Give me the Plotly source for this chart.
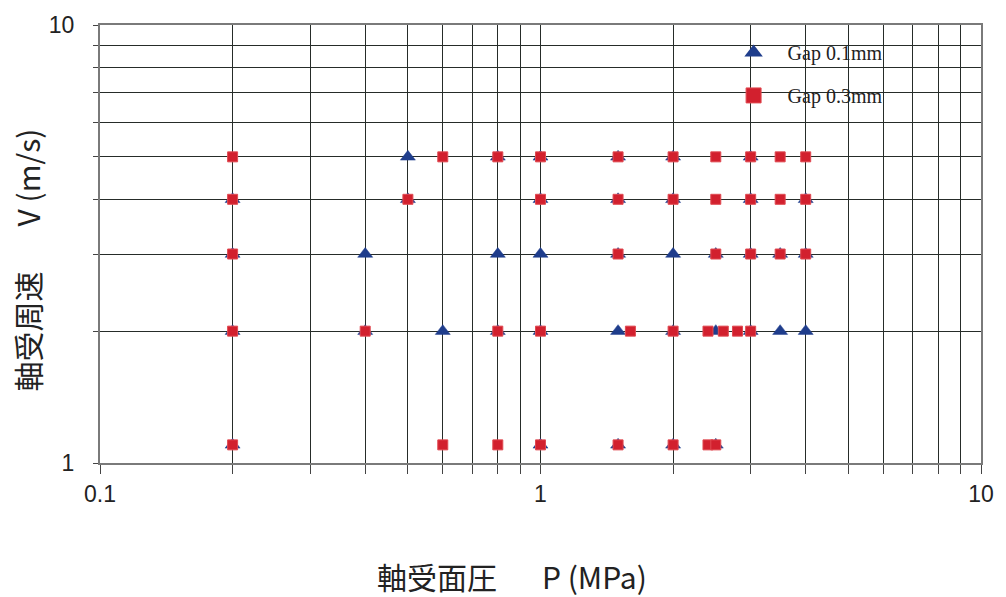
import plotly.graph_objects as go

# Bearing pressure P (MPa) and peripheral speed V (m/s) of each test point
p_gap01 = [0.5, 0.8, 1.0, 1.5, 2.0, 3.0,
           0.2, 0.5, 1.0, 1.5, 2.0, 3.0, 4.0,
           0.2, 0.4, 0.8, 1.0, 1.5, 2.0, 2.5, 3.0, 3.5, 4.0,
           0.2, 0.4, 0.6, 0.8, 1.0, 1.5, 2.0, 2.5, 3.0, 3.5, 4.0,
           0.2, 1.0, 1.5, 2.0, 2.5]
v_gap01 = [5, 5, 5, 5, 5, 5,
           4, 4, 4, 4, 4, 4, 4,
           3, 3, 3, 3, 3, 3, 3, 3, 3, 3,
           2, 2, 2, 2, 2, 2, 2, 2, 2, 2, 2,
           1.1, 1.1, 1.1, 1.1, 1.1]

p_gap03 = [0.2, 0.6, 0.8, 1.0, 1.5, 2.0, 2.5, 3.0, 3.5, 4.0,
           0.2, 0.5, 1.0, 1.5, 2.0, 2.5, 3.0, 3.5, 4.0,
           0.2, 1.5, 2.5, 3.0, 3.5, 4.0,
           0.2, 0.4, 0.8, 1.0, 1.6, 2.0, 2.4, 2.6, 2.8, 3.0,
           0.2, 0.6, 0.8, 1.0, 1.5, 2.0, 2.4, 2.5]
v_gap03 = [5, 5, 5, 5, 5, 5, 5, 5, 5, 5,
           4, 4, 4, 4, 4, 4, 4, 4, 4,
           3, 3, 3, 3, 3, 3,
           2, 2, 2, 2, 2, 2, 2, 2, 2, 2,
           1.1, 1.1, 1.1, 1.1, 1.1, 1.1, 1.1, 1.1]

x_ticks = [0.1, 0.2, 0.3, 0.4, 0.5, 0.6, 0.7, 0.8, 0.9,
           1, 2, 3, 4, 5, 6, 7, 8, 9, 10]
x_labels = ["0.1", "", "", "", "", "", "", "", "",
            "1", "", "", "", "", "", "", "", "", "10"]
y_ticks = [1, 2, 3, 4, 5, 6, 7, 8, 9, 10]
y_labels = ["1", "", "", "", "", "", "", "", "", "10"]

NAVY = "#1f3d8c"
RED = "#d2202e"
GRID = "#262c29"

fig = go.Figure()

fig.add_trace(go.Scatter(
    x=p_gap01, y=v_gap01, mode="markers", showlegend=False,
    marker=dict(symbol="triangle-up", size=13, color=NAVY,
                line=dict(width=0.5, color=NAVY)),
))
fig.add_trace(go.Scatter(
    x=p_gap03, y=v_gap03, mode="markers", showlegend=False,
    marker=dict(symbol="square", size=10, color=RED,
                line=dict(width=1, color="#e04a52")),
))

# legend entries with larger symbols
fig.add_trace(go.Scatter(
    x=[None], y=[None], mode="markers", name="Gap 0.1mm", legendgroup="a",
    marker=dict(symbol="triangle-up", size=16, color=NAVY),
))
fig.add_trace(go.Scatter(
    x=[None], y=[None], mode="markers", name="Gap 0.3mm", legendgroup="b",
    marker=dict(symbol="square", size=15, color=RED,
                line=dict(width=1, color="#e04a52")),
))

axis_common = dict(
    type="log",
    showgrid=True, gridcolor=GRID, gridwidth=1.4,
    ticks="outside", tickcolor="#444", tickwidth=1.4,
    showline=True, mirror=True, linecolor="#7a7a7a", linewidth=2,
    tickfont=dict(family="Liberation Sans, Arial, sans-serif", size=23, color="#222"),
    zeroline=False,
)

fig.update_xaxes(range=[-1, 1], tickvals=x_ticks, ticktext=x_labels,
                 ticklen=9, **axis_common)
fig.update_yaxes(range=[0, 1], tickvals=y_ticks, ticktext=y_labels,
                 ticklen=5, ticklabelstandoff=14, **axis_common)

# white panel behind the legend
fig.add_shape(type="rect", xref="paper", yref="paper",
              x0=(768 - 100) / 883, x1=(975 - 100) / 883,
              y0=(463 - 128) / 443, y1=(463 - 29) / 443,
              fillcolor="white", line=dict(width=0), layer="between")

fig.add_annotation(
    text="軸受面圧　\u2002P (MPa)", xref="paper", yref="paper",
    x=(513 - 100) / 883, y=(463 - 577) / 443, xanchor="center", yanchor="middle",
    showarrow=False,
    font=dict(family="Noto Sans CJK JP", size=30, color="#222"),
)
fig.add_annotation(
    text="軸受周速　\u2002V (m/s)", xref="paper", yref="paper",
    x=(27 - 100) / 883, y=(463 - 258) / 443, xanchor="center", yanchor="middle",
    textangle=-90, showarrow=False,
    font=dict(family="Noto Sans CJK JP", size=30, color="#222"),
)

fig.update_layout(
    width=1006, height=597,
    margin=dict(l=100, r=23, t=20, b=134),
    plot_bgcolor="white", paper_bgcolor="white",
    legend=dict(
        x=(721 - 100) / 883, y=(463 - 28) / 443, xanchor="left", yanchor="top",
        bgcolor="rgba(0,0,0,0)", borderwidth=0,
        font=dict(family="Liberation Serif, DejaVu Serif, serif", size=20, color="#222"),
        traceorder="grouped", tracegroupgap=14, itemwidth=58,
    ),
)

fig.write_html("out.html")
